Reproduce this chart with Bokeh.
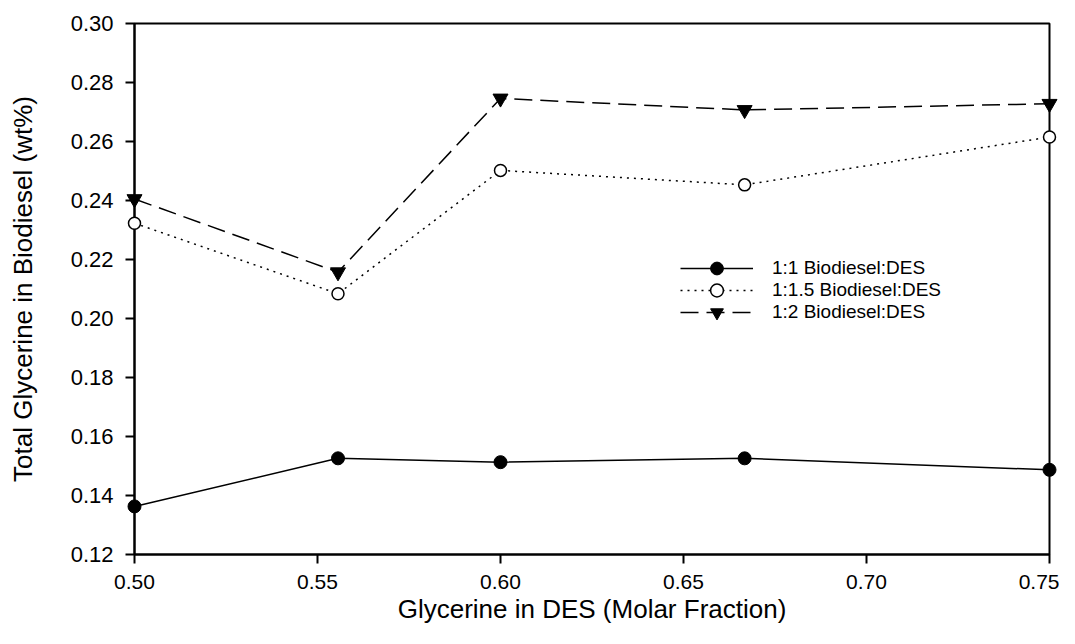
from bokeh.plotting import figure
from bokeh.models import Range1d, FixedTicker, PrintfTickFormatter, Legend, LegendItem
from bokeh.embed import file_html
from bokeh.resources import INLINE

# Data
x_vals = [0.5, 0.5556, 0.6, 0.6667, 0.75]
s1_vals = [0.1363, 0.1526, 0.1513, 0.1526, 0.1487]
s2_vals = [0.2323, 0.2084, 0.2502, 0.2453, 0.2615]
s3_vals = [0.2405, 0.2157, 0.2746, 0.2707, 0.2728]
labels = ["1:1 Biodiesel:DES", "1:1.5 Biodiesel:DES", "1:2 Biodiesel:DES"]
x_ticks = [0.50, 0.55, 0.60, 0.65, 0.70, 0.75]
y_ticks = [0.12, 0.14, 0.16, 0.18, 0.20, 0.22, 0.24, 0.26, 0.28, 0.30]

FONT = "Liberation Sans"

p = figure(width=1059, height=628, output_backend="svg", toolbar_location=None,
           x_range=Range1d(0.5, 0.75), y_range=Range1d(0.12, 0.30),
           min_border_left=134, min_border_right=10, min_border_top=23, min_border_bottom=74)
p.background_fill_color = "white"
p.border_fill_color = "white"
p.grid.visible = False
p.outline_line_color = "black"
p.outline_line_width = 2
p.outline_line_alpha = 1.0

for ax in (p.xaxis[0], p.yaxis[0]):
    ax.axis_line_width = 2
    ax.axis_line_color = "black"
    ax.major_tick_line_width = 2
    ax.major_tick_line_color = "black"
    ax.major_tick_out = 9
    ax.major_tick_in = 0
    ax.minor_tick_line_color = None
    ax.major_label_text_font = FONT
    ax.major_label_text_color = "black"
    ax.axis_label_text_font = FONT
    ax.axis_label_text_font_style = "normal"
    ax.axis_label_text_color = "black"
    ax.formatter = PrintfTickFormatter(format="%.2f")

p.xaxis[0].ticker = FixedTicker(ticks=x_ticks)
p.yaxis[0].ticker = FixedTicker(ticks=y_ticks)
p.xaxis[0].axis_label = "Glycerine in DES (Molar Fraction)"
p.yaxis[0].axis_label = "Total Glycerine in Biodiesel (wt%)"
p.xaxis[0].major_label_text_font_size = "21px"
p.yaxis[0].major_label_text_font_size = "22px"
p.xaxis[0].major_label_standoff = 11
p.yaxis[0].major_label_standoff = 12
p.xaxis[0].axis_label_text_font_size = "26px"
p.yaxis[0].axis_label_text_font_size = "26px"
p.xaxis[0].axis_label_standoff = 2
p.yaxis[0].axis_label_standoff = 30

l1 = p.line(x_vals, s1_vals, line_color="black", line_width=1.5)
m1 = p.scatter(x_vals, s1_vals, marker="circle", size=13, fill_color="black", line_color="black", level="overlay")
l2 = p.line(x_vals, s2_vals, line_color="black", line_width=1.5, line_dash="2 5")
m2 = p.scatter(x_vals, s2_vals, marker="circle", size=12, fill_color="white", line_color="black", line_width=1.5, level="overlay")
l3 = p.line(x_vals, s3_vals, line_color="black", line_width=1.5, line_dash="18 8")
m3 = p.scatter(x_vals, s3_vals, marker="inverted_triangle", size=15, fill_color="black", line_color="black", level="overlay")

rows = [(labels[0], [l1, m1], 270), (labels[1], [l2, m2], 248), (labels[2], [l3, m3], 226)]
for lab, rends, ybot in rows:
    lg = Legend(items=[LegendItem(label=lab, renderers=rends)], location=(546, ybot))
    lg.border_line_color = None
    lg.background_fill_alpha = 0
    lg.label_text_font = FONT
    lg.label_text_font_size = "19px"
    lg.label_text_color = "black"
    lg.glyph_width = 73
    lg.glyph_height = 32
    lg.label_height = 32
    lg.spacing = 0
    lg.padding = 0
    lg.margin = 0
    lg.label_standoff = 19
    p.add_layout(lg, "center")

open("out.html", "w").write(file_html(p, INLINE))
